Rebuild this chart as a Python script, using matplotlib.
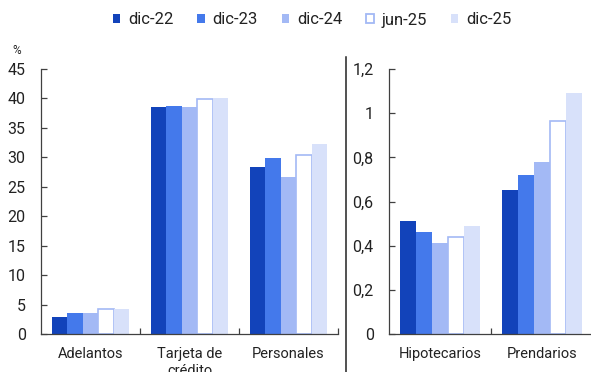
import matplotlib
matplotlib.use("Agg")
import matplotlib.pyplot as plt
import numpy as np
from matplotlib.patches import Patch
from matplotlib.lines import Line2D
from matplotlib.ticker import FuncFormatter

plt.rcParams['font.family'] = ['Roboto', 'DejaVu Sans']

series = ["dic-22", "dic-23", "dic-24", "jun-25", "dic-25"]

cats_left = ["Adelantos", "Tarjeta de\ncrédito", "Personales"]
vals_left = {
    "dic-22": [2.9, 38.5, 28.3],
    "dic-23": [3.5, 38.8, 29.9],
    "dic-24": [3.5, 38.5, 26.6],
    "jun-25": [4.2, 39.9, 30.4],
    "dic-25": [4.2, 40.1, 32.3],
}

cats_right = ["Hipotecarios", "Prendarios"]
vals_right = {
    "dic-22": [0.51, 0.65],
    "dic-23": [0.46, 0.72],
    "dic-24": [0.41, 0.78],
    "jun-25": [0.44, 0.965],
    "dic-25": [0.49, 1.09],
}

fills = {"dic-22": "#1243ba", "dic-23": "#4479eb", "dic-24": "#a3b9f5",
         "jun-25": "white", "dic-25": "#d8e1fa"}
edges = {"jun-25": "#a3b9f5"}

W, H = 591, 372
fig = plt.figure(figsize=(W / 100, H / 100), dpi=100)

axL = fig.add_axes([41 / W, (H - 334) / H, 297 / W, 265 / H])
axR = fig.add_axes([389 / W, (H - 334) / H, 204 / W, 265 / H])

group = 0.78
bw = group / len(series)
spine_col = "#404040"
text_col = "#222222"
fs = 10.5


def draw(ax, cats, vals):
    x = np.arange(len(cats))
    for i, s in enumerate(series):
        off = -group / 2 + bw * (i + 0.5)
        if s in edges:
            ax.bar(x + off, vals[s], bw, color=fills[s], edgecolor=edges[s],
                   linewidth=1.2, zorder=2)
        else:
            ax.bar(x + off, vals[s], bw, color=fills[s], linewidth=0, zorder=2)
    ax.set_xlim(-0.5, len(cats) - 0.5)
    ax.set_xticks(np.arange(len(cats)) + 0.5)
    ax.set_xticklabels([])
    ax.set_xticks(x, minor=True)
    ax.set_xticklabels(cats, minor=True, fontsize=fs, color=text_col,
                       linespacing=1.3, va="top")
    ax.tick_params(axis="x", which="major", direction="in", length=4,
                   color=spine_col, width=0.9)
    ax.tick_params(axis="x", which="minor", length=0, pad=9.5)
    ax.tick_params(axis="y", direction="in", length=4, color=spine_col,
                   width=0.9, labelsize=fs + 1, labelcolor=text_col, pad=11)
    for sp in ("top", "right"):
        ax.spines[sp].set_visible(False)
    for sp in ("left", "bottom"):
        ax.spines[sp].set_color(spine_col)
        ax.spines[sp].set_linewidth(0.9)


draw(axL, cats_left, vals_left)
axL.set_ylim(0, 45)
axL.set_yticks(np.arange(0, 46, 5))

draw(axR, cats_right, vals_right)
axR.set_ylim(0, 1.2)
axR.set_yticks(np.arange(0, 1.21, 0.2))


def comma_fmt(v, pos):
    txt = f"{v:.1f}".rstrip("0").rstrip(".")
    return txt.replace(".", ",")


axR.yaxis.set_major_formatter(FuncFormatter(comma_fmt))

# unit label and panel divider
fig.text(17 / W, 1 - 50 / H, "%", fontsize=8.5, color=text_col,
         ha="center", va="center")
fig.add_artist(Line2D([346 / W, 346 / W], [0, 1 - 57 / H],
                      color="#222222", linewidth=1.1))

handles = []
for s in series:
    if s in edges:
        handles.append(Patch(facecolor=fills[s], edgecolor=edges[s], linewidth=1.3))
    else:
        handles.append(Patch(facecolor=fills[s], edgecolor="none"))
fig.legend(handles, series, loc="center", bbox_to_anchor=(312 / W, 1 - 20 / H),
           ncol=5, frameon=False, fontsize=12, handlelength=0.45,
           handleheight=0.45, handletextpad=0.45, columnspacing=1.45,
           labelcolor=text_col)

fig.savefig("out.png", dpi=100)
